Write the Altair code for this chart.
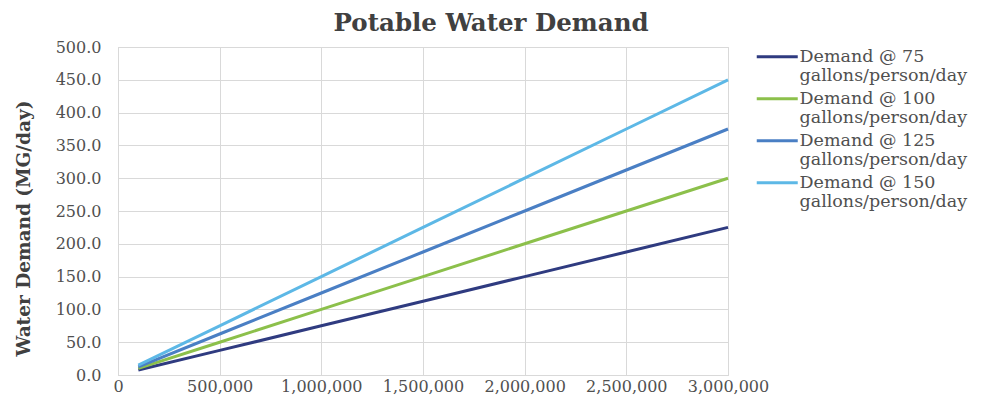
import altair as alt
import pandas as pd

population = [100000, 500000, 1000000, 1500000, 2000000, 2500000, 3000000]
demand_75 = [7.5, 37.5, 75.0, 112.5, 150.0, 187.5, 225.0]
demand_100 = [10.0, 50.0, 100.0, 150.0, 200.0, 250.0, 300.0]
demand_125 = [12.5, 62.5, 125.0, 187.5, 250.0, 312.5, 375.0]
demand_150 = [15.0, 75.0, 150.0, 225.0, 300.0, 375.0, 450.0]
series_names = [
    "Demand @ 75|gallons/person/day",
    "Demand @ 100|gallons/person/day",
    "Demand @ 125|gallons/person/day",
    "Demand @ 150|gallons/person/day",
]
colors = ["#2F3B80", "#8CC04B", "#4A7FC4", "#5DB8E6"]

rows = []
for name, vals in zip(series_names, [demand_75, demand_100, demand_125, demand_150]):
    for p, v in zip(population, vals):
        rows.append({"Population": p, "Demand": v, "Series": name})
df = pd.DataFrame(rows)

FONT = "DejaVu Serif"

chart = alt.Chart(df).mark_line(strokeWidth=3).encode(
    x=alt.X("Population:Q",
            scale=alt.Scale(domain=[0, 3000000], nice=False),
            axis=alt.Axis(values=[0, 500000, 1000000, 1500000, 2000000, 2500000, 3000000],
                          format=",d", title=None, labelPadding=3,
                          labelOverlap=False, labelFlush=False)),
    y=alt.Y("Demand:Q",
            scale=alt.Scale(domain=[0, 500], nice=False),
            axis=alt.Axis(values=list(range(0, 501, 50)), format=".1f",
                          title="Water Demand (MG/day)", titlePadding=22, labelPadding=17,
                          titleY=181)),
    color=alt.Color("Series:N",
                    scale=alt.Scale(domain=series_names, range=colors),
                    legend=alt.Legend(title=None, orient="none", legendX=651, legendY=1,
                                      symbolType="M-4.2,0H4", symbolSize=100,
                                      symbolStrokeWidth=3, labelExpr="split(datum.label, '|')",
                                      labelLimit=300, rowPadding=4, labelOffset=13)),
).properties(
    width=610,
    height=328,
    title=alt.TitleParams("Potable Water Demand", anchor="middle", frame="bounds",
                          fontSize=24.5, font=FONT, fontWeight="bold", color="#404040", offset=3),
    autosize=alt.AutoSizeParams(type="none"),
    padding={"left": 118, "top": 47, "right": 254, "bottom": 36},
).configure_axis(
    labelFont=FONT, labelFontSize=16, labelColor="#505050",
    titleFont=FONT, titleFontSize=18.5, titleColor="#404040", titleFontWeight="bold",
    gridColor="#d9d9d9", domainColor="#d9d9d9", ticks=False,
).configure_legend(
    labelFont=FONT, labelFontSize=17.5, labelColor="#505050",
).configure_view(stroke="#d9d9d9")

chart.save("out.html", embed_options={"renderer": "svg", "actions": False})
